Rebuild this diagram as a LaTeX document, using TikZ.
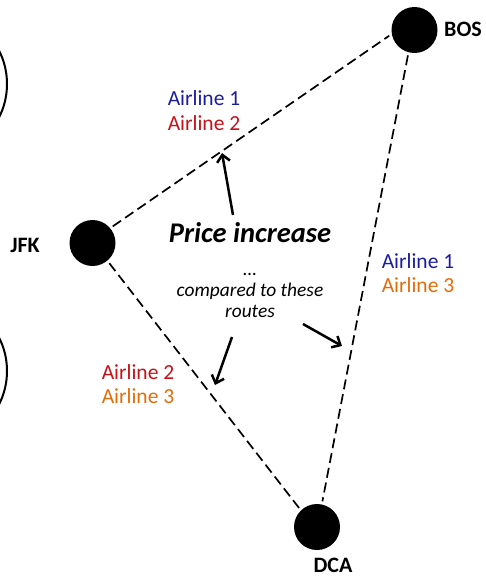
\documentclass[tikz,border=0pt]{standalone}
\usepackage{fontspec}
\setmainfont{Carlito}
\usepackage{tikz}
\usetikzlibrary{arrows.meta, positioning}
\definecolor{airblue}{RGB}{28,28,160}
\definecolor{airred}{RGB}{200,16,24}
\definecolor{airorange}{RGB}{228,108,10}

\tikzset{
  city/.style={circle, fill=black, minimum size=46pt, inner sep=0pt},
  code/.style={font=\bfseries\fontsize{22}{26}\selectfont, inner sep=0pt},
  airline/.style={font=\fontsize{21.5}{25}\selectfont, inner sep=0pt},
  route/.style={dash pattern=on 10pt off 5pt, line width=1.7pt, shorten <=3pt, shorten >=3pt},
  pointer/.style={line width=2.5pt, -{Straight Barb[length=7pt, width=13pt]}}
}

\begin{document}
\begin{tikzpicture}[x=1pt, y=-1pt]
  \useasboundingbox (0,0) rectangle (486,578);
  \clip (0,0) rectangle (486,578);

  % Cut-off shapes on the left edge
  \draw[line width=2pt] (-67,84) circle (74);
  \draw[line width=2pt] (-67,371) circle (74);

  % Airports
  \node[city] (jfk) at (92.5,243) {};
  \node[city] (bos) at (414.5,30) {};
  \node[city] (dca) at (317,527) {};
  \node[code] (jfklbl) at (25,245) {JFK};
  \node[code] (boslbl) at (463,29) {BOS};
  \node[code] (dcalbl) at (333,565) {DCA};

  % Routes
  \draw[route] (jfk.40) -- (bos.190);
  \draw[route] (jfk.-50) -- (dca.134);
  \draw[route] (bos.255) -- (dca.78);

  % Airlines per route
  \node[airline, airblue] (jbone) at (204,98) {Airline 1};
  \node[airline, airred] (jbtwo) at (204,123) {Airline 2};
  \node[airline, airblue] (bdone) at (418,261) {Airline 1};
  \node[airline, airorange] (bdthree) at (418,285) {Airline 3};
  \node[airline, airred] (jdtwo) at (138,372) {Airline 2};
  \node[airline, airorange] (jdthree) at (138,396) {Airline 3};

  % Comments
  \node[font=\bfseries\itshape\fontsize{28.5}{32}\selectfont] (price) at (250,233) {Price increase};
  \node[font=\itshape\fontsize{19.4}{21}\selectfont, align=center] (cmp) at (250,295)
    {\dots\\compared to these\\routes};

  % Arrows
  \coordinate (upTail) at (233,215);
  \coordinate (upTip) at (222,153);
  \coordinate (leftTail) at (232,337);
  \coordinate (leftTip) at (215,385);
  \coordinate (rightTail) at (303,324);
  \coordinate (rightTip) at (342,346);
  \draw[pointer] (upTail) -- (upTip);
  \draw[pointer] (leftTail) -- (leftTip);
  \draw[pointer] (rightTail) -- (rightTip);
\end{tikzpicture}
\end{document}
